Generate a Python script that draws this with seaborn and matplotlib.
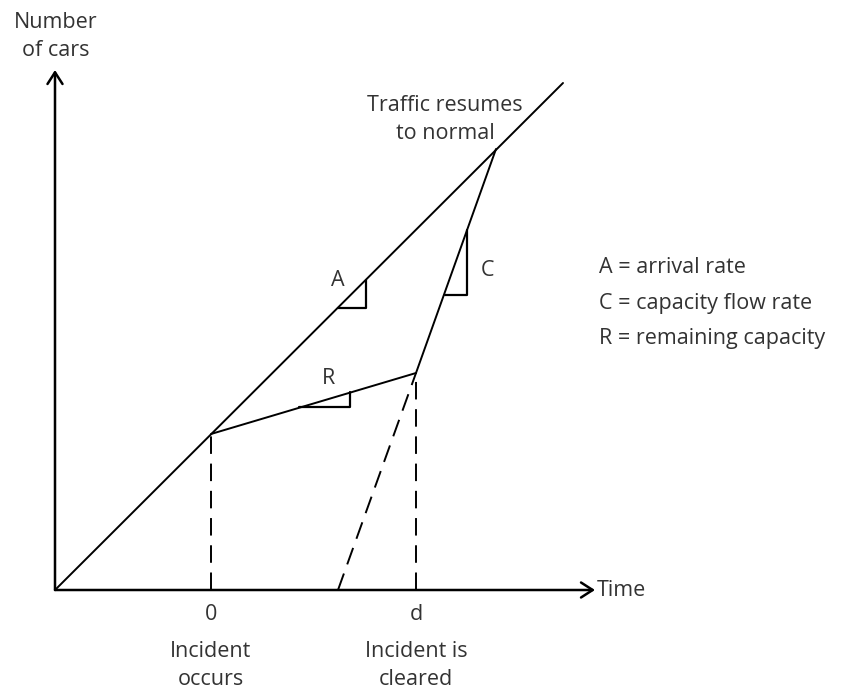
import matplotlib
matplotlib.use("Agg")
import matplotlib.pyplot as plt
import seaborn as sns
import pandas as pd

# ---- data (time / cumulative cars, arbitrary units) ----
arrival_t = [0.0, 50.8]
arrival_n = [0.0, 50.7]
reduced_t = [15.6, 36.1]          # incident occurs -> incident cleared
reduced_n = [15.6, 21.7]
discharge_t = [36.1, 44.1]        # cleared -> traffic back to normal
discharge_n = [21.7, 44.1]
ext_t = [28.3, 36.1]              # dashed extension of discharge line
ext_n = [0.0, 21.7]
tick_t = [15.6, 36.1]
tick_labels = ["0", "d"]
event_labels = ["Incident\noccurs", "Incident is\ncleared"]
legend_lines = ["A = arrival rate", "C = capacity flow rate", "R = remaining capacity"]
# slope triangles
triA_t = [28.3, 31.1, 31.1]; triA_n = [28.2, 28.2, 31.0]
triC_t = [39.0, 41.2, 41.2]; triC_n = [29.5, 29.5, 36.0]
triR_t = [24.4, 29.5, 29.5]; triR_n = [18.3, 18.3, 19.8]

sns.set_theme(style="white")
plt.rcParams['font.family'] = ['Open Sans', 'DejaVu Sans']
TXT = "#333333"

fig = plt.figure(figsize=(8.49, 6.9), dpi=100)
ax = fig.add_axes([0, 0, 1, 1])
ax.set_xlim(-5.5, 79.4)
ax.set_ylim(-10.0, 59.0)
ax.axis("off")

lw = 1.4
def line(t, n, **kw):
    df = pd.DataFrame({"t": t, "n": n})
    sns.lineplot(data=df, x="t", y="n", ax=ax, sort=False, estimator=None,
                 color="black", lw=kw.pop("lw", lw), **kw)

line(arrival_t, arrival_n)
line(reduced_t, reduced_n)
line(discharge_t, discharge_n)
line(ext_t, ext_n, dashes=[9, 5])
for t, n in zip(reduced_t, reduced_n):
    line([t, t], [0, n], dashes=[9, 5])
for tt, nn in [(triA_t, triA_n), (triC_t, triC_n), (triR_t, triR_n)]:
    line(tt, nn, lw=1.6)

# axes with open arrowheads
ax.annotate("", xy=(54.0, 0), xytext=(0, 0),
            arrowprops=dict(arrowstyle="->,head_length=0.7,head_width=0.45", lw=1.8, color="black",
                            shrinkA=0, shrinkB=0))
ax.annotate("", xy=(0, 52.0), xytext=(0, 0),
            arrowprops=dict(arrowstyle="->,head_length=0.7,head_width=0.45", lw=1.8, color="black",
                            shrinkA=0, shrinkB=0))

fs = 15.5
ls = 1.42
ax.text(54.2, 0, "Time", ha="left", va="center", fontsize=fs, color=TXT)
ax.text(0.1, 52.9, "Number\nof cars", ha="center", va="bottom", fontsize=fs, color=TXT, linespacing=ls)
for t, lab, ev in zip(tick_t, tick_labels, event_labels):
    ax.text(t, -2.45, lab, ha="center", va="center", fontsize=fs, color=TXT)
    ax.text(t, -5.1, ev, ha="center", va="top", fontsize=fs, color=TXT, linespacing=ls)
ax.text(39.0, 44.6, "Traffic resumes\nto normal", ha="center", va="bottom", fontsize=fs, color=TXT,
        linespacing=ls)
ax.text(28.3, 31.0, "A", ha="center", va="center", fontsize=fs, color=TXT)
ax.text(43.3, 32.0, "C", ha="center", va="center", fontsize=fs, color=TXT)
ax.text(27.4, 21.2, "R", ha="center", va="center", fontsize=fs, color=TXT)
for i, s in enumerate(legend_lines):
    ax.text(54.4, 32.25 - 3.55 * i, s, ha="left", va="center", fontsize=fs, color=TXT)

fig.savefig("out.png", dpi=100)
